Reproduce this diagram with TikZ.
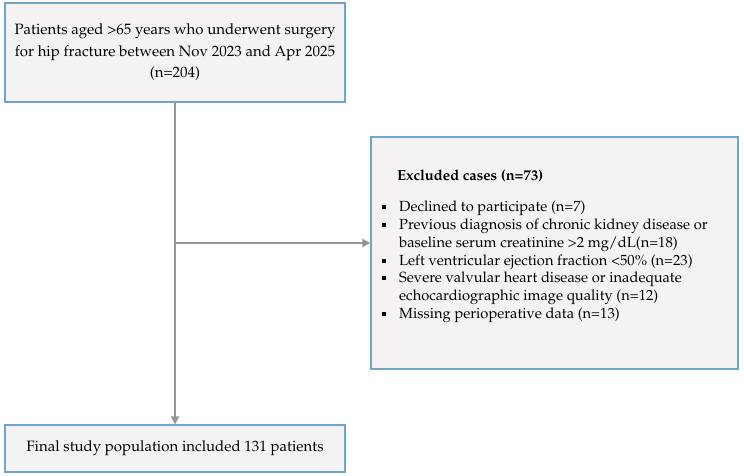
\documentclass[tikz,border=0pt]{standalone}
\usepackage[T1]{fontenc}
\usepackage{mathpazo}
\usetikzlibrary{arrows.meta}
\definecolor{boxfill}{RGB}{244,242,243}
\definecolor{boxline}{RGB}{110,165,200}
\definecolor{arrowgray}{RGB}{150,150,150}
\tikzset{
  flowbox/.style={draw=boxline, line width=1.2pt, fill=boxfill, inner sep=0pt},
  conn/.style={draw=arrowgray, line width=2.6pt},
  connarrow/.style={conn, -{Triangle[length=8pt,width=8pt]}},
}
\newcommand{\bsq}{\makebox[17pt][l]{\raisebox{2.5pt}{\rule{4pt}{4pt}}}}
\begin{document}
\begin{tikzpicture}[x=1pt,y=-1pt]
\useasboundingbox (0,0) rectangle (744,476);
\node[flowbox, minimum width=340pt, minimum height=99pt, align=center,
      font=\fontsize{15}{21.5}\selectfont] (top) at (175,52.5)
  {Patients aged >65 years who underwent surgery\\for hip fracture between Nov 2023 and Apr 2025\\(n=204)};
\node[flowbox, minimum width=367pt, minimum height=232pt] (exc) at (554.5,253) {};
\node[anchor=north west, inner sep=0pt, align=left,
      font=\fontsize{14.7}{17.8}\selectfont] (exctext) at (382,170)
  {\hspace*{15pt}\textbf{Excluded cases (n=73)}\\[13pt]
   \bsq Declined to participate (n=7)\\
   \bsq Previous diagnosis of chronic kidney disease or\\
   \hspace*{17pt}baseline serum creatinine >2 mg/dL(n=18)\\
   \bsq Left ventricular ejection fraction <50\% (n=23)\\
   \bsq Severe valvular heart disease or inadequate\\
   \hspace*{17pt}echocardiographic image quality (n=12)\\
   \bsq Missing perioperative data (n=13)};
\node[flowbox, minimum width=340pt, minimum height=47pt,
      font=\fontsize{15}{18}\selectfont] (bot) at (175,448.5)
  {Final study population included 131 patients};
\coordinate (split) at (175,243);
\draw[connarrow] (top.south) -- (bot.north);
\draw[connarrow] (split) -- (split -| exc.west);
\end{tikzpicture}
\end{document}
